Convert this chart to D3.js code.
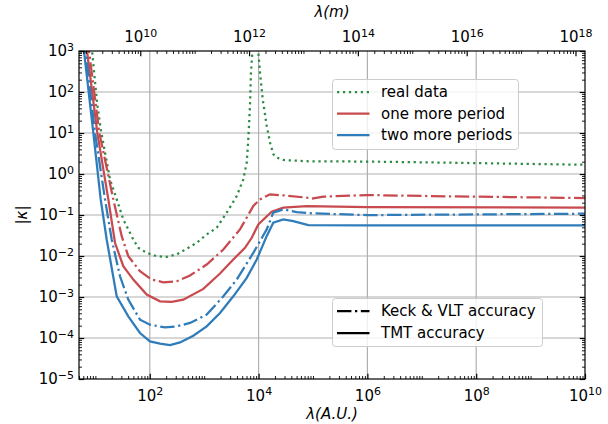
<!DOCTYPE html>
<html>
<head>
<meta charset="utf-8">
<script src="https://cdn.jsdelivr.net/npm/d3@7"></script>
<style>
body { margin: 0; background: #fff; }
svg { font-family: "DejaVu Sans", sans-serif; }
</style>
</head>
<body>
<div id="chart"></div>
<script>
// [log10 λ(A.U.), log10 |κ|]
const realData = [[0.90,3.4],[0.94,3.0],[0.99,2.3],[1.03,1.75],[1.098,1.093],[1.177,0.523],[1.269,-0.130],[1.392,-0.619],[1.513,-1.108],[1.697,-1.597],[1.789,-1.800],[1.943,-1.922],[2.127,-2.005],[2.311,-2.020],[2.495,-1.963],[2.679,-1.824],[2.863,-1.677],[3.046,-1.474],[3.230,-1.311],[3.414,-0.944],[3.598,-0.538],[3.719,-0.130],[3.782,0.279],[3.811,0.848],[3.842,1.663],[3.860,2.479],[3.885,2.968],[3.934,4.2],[3.995,2.968],[4.026,2.479],[4.076,1.826],[4.149,1.174],[4.210,0.768],[4.271,0.482],[4.333,0.401],[4.455,0.342],[4.885,0.311],[6.0,0.303],[7.335,0.279],[10,0.225]];

const oneMoreKeck = [[0.86,3.3],[0.883,3.0],[1.072,1.01],[1.330,-0.619],[1.484,-1.516],[1.605,-2.005],[1.820,-2.372],[2.035,-2.575],[2.249,-2.641],[2.495,-2.616],[2.739,-2.477],[3.046,-2.208],[3.352,-1.841],[3.658,-1.352],[3.903,-0.782],[4.026,-0.619],[4.21,-0.496],[4.455,-0.521],[4.885,-0.577],[4.977,-0.601],[5.19,-0.553],[6.0,-0.513],[7.151,-0.538],[10,-0.587]];

const oneMoreTmt = [[0.82,3.3],[0.846,3.0],[1.035,1.01],[1.238,-0.619],[1.361,-1.677],[1.513,-2.249],[1.697,-2.575],[1.943,-2.941],[2.188,-3.105],[2.403,-3.120],[2.616,-3.064],[2.984,-2.802],[3.291,-2.428],[3.535,-2.086],[3.750,-1.800],[3.874,-1.555],[3.995,-1.230],[4.241,-0.919],[4.455,-0.822],[4.885,-0.782],[6.0,-0.807],[10,-0.822]];

const twoMoreKeck = [[0.79,3.3],[0.82,3.0],[0.993,1.01],[1.177,-0.619],[1.300,-1.597],[1.453,-2.494],[1.605,-3.064],[1.820,-3.553],[2.004,-3.675],[2.280,-3.741],[2.495,-3.716],[2.739,-3.633],[3.046,-3.430],[3.352,-2.983],[3.598,-2.575],[3.903,-1.922],[4.149,-1.352],[4.27,-0.944],[4.455,-0.863],[4.70,-0.929],[5.006,-0.961],[6.0,-1.003],[10,-0.968]];

const twoMoreTmt = [[0.76,3.3],[0.791,3.0],[0.962,1.01],[1.098,-0.619],[1.208,-1.597],[1.392,-2.983],[1.605,-3.472],[1.820,-3.878],[2.004,-4.083],[2.188,-4.139],[2.372,-4.171],[2.556,-4.108],[2.800,-3.944],[3.046,-3.716],[3.291,-3.389],[3.535,-2.983],[3.782,-2.533],[3.966,-2.086],[4.149,-1.516],[4.27,-1.188],[4.455,-1.108],[4.638,-1.149],[4.914,-1.247],[6.0,-1.254],[10,-1.254]];

const xDomain = [5, 1e10];
const yDomain = [1e-5, 1e3];
const auInKm = 1.496e8;   // top axis factor
const xMajor = [1e2, 1e4, 1e6, 1e8, 1e10];
const topMajor = [1e10, 1e12, 1e14, 1e16, 1e18];
const yMajor = [1e-5, 1e-4, 1e-3, 1e-2, 1e-1, 1e0, 1e1, 1e2, 1e3];

const colors = { green: '#2e8b44', red: '#c84a4e', blue: '#2f7cba' };

const series = [
    { data: realData, color: colors.green, dash: '2.25,3.7', name: 'real data' },
    { data: oneMoreKeck, color: colors.red, dash: '14.4,3.6,2.25,3.6' },
    { data: oneMoreTmt, color: colors.red, dash: null, name: 'one more period' },
    { data: twoMoreKeck, color: colors.blue, dash: '14.4,3.6,2.25,3.6' },
    { data: twoMoreTmt, color: colors.blue, dash: null, name: 'two more periods' }
];

const W = 608, H = 424;
const L = 79, R = 585, T = 51, B = 379;

const svg = d3.select('#chart').append('svg')
    .attr('width', W).attr('height', H);

const x = d3.scaleLog().domain(xDomain).range([L, R]);
const xTop = d3.scaleLog().domain(xDomain.map(d => d * auInKm)).range([L, R]);
const y = d3.scaleLog().domain(yDomain).range([B, T]);

function minorTicks(lo, hi, majors) {
    const out = [];
    for (let e = Math.floor(Math.log10(lo)); e <= Math.ceil(Math.log10(hi)); e++) {
        for (let k = 1; k < 10; k++) {
            const v = k * Math.pow(10, e);
            if (v >= lo * 0.999 && v <= hi * 1.001 && !majors.some(m => Math.abs(m - v) / v < 1e-6)) out.push(v);
        }
    }
    return out;
}

function powLabel(sel) {
    sel.each(function (d) {
        const t = d3.select(this);
        const e = Math.round(Math.log10(d));
        t.text('');
        t.append('tspan').text('10');
        t.append('tspan').attr('dy', '-0.5em').attr('font-size', '11px')
            .text(e < 0 ? '\u2212' + (-e) : e);
    });
}

// grid
svg.append('g').selectAll('line').data(xMajor.slice(0, 4)).join('line')
    .attr('x1', d => x(d)).attr('x2', d => x(d)).attr('y1', T).attr('y2', B)
    .attr('stroke', '#b0b0b0').attr('stroke-width', 1.2);
svg.append('g').selectAll('line').data(yMajor.slice(1, 8)).join('line')
    .attr('x1', L).attr('x2', R).attr('y1', d => y(d)).attr('y2', d => y(d))
    .attr('stroke', '#b0b0b0').attr('stroke-width', 1.2);

// curves
svg.append('clipPath').attr('id', 'clip').append('rect')
    .attr('x', L).attr('y', T).attr('width', R - L).attr('height', B - T);

const line = d3.line()
    .x(d => x(Math.pow(10, d[0])))
    .y(d => y(Math.pow(10, d[1])));

const curves = svg.append('g').attr('clip-path', 'url(#clip)');
series.forEach(s => {
    curves.append('path').datum(s.data)
        .attr('d', line)
        .attr('fill', 'none')
        .attr('stroke', s.color)
        .attr('stroke-width', 2.25)
        .attr('stroke-dasharray', s.dash);
});

// axes
const xMinor = minorTicks(xDomain[0], xDomain[1], xMajor);
const topMinor = minorTicks(xDomain[0] * auInKm, xDomain[1] * auInKm, topMajor);
const yMinor = minorTicks(yDomain[0], yDomain[1], yMajor);

function addAxis(axisFn, scale, majors, minors, transform, labels, pad) {
    const gMin = svg.append('g').attr('transform', transform)
        .call(axisFn(scale).tickValues(minors).tickSize(-3).tickFormat(''));
    gMin.select('.domain').remove();
    gMin.selectAll('line').attr('stroke-width', 0.9);
    const g = svg.append('g').attr('transform', transform)
        .call(axisFn(scale).tickValues(majors).tickSize(-5.25).tickPadding(pad));
    g.select('.domain').remove();
    g.selectAll('line').attr('stroke-width', 1.2);
    g.selectAll('text').attr('font-size', '15px').attr('font-family', '"DejaVu Sans", sans-serif')
        .attr('fill', '#000');
    if (labels) g.selectAll('text').call(powLabel);
    else g.selectAll('text').remove();
    return g;
}

addAxis(d3.axisBottom, x, xMajor, xMinor, `translate(0,${B})`, true, 11);
addAxis(d3.axisTop, xTop, topMajor, topMinor, `translate(0,${T})`, true, 9);
addAxis(d3.axisLeft, y, yMajor, yMinor, `translate(${L},0)`, true, 5);
addAxis(d3.axisRight, y, yMajor, yMinor, `translate(${R},0)`, false, 5);

svg.append('rect').attr('x', L).attr('y', T).attr('width', R - L).attr('height', B - T)
    .attr('fill', 'none').attr('stroke', '#000').attr('stroke-width', 1.2);

// axis titles
svg.append('text').attr('x', (L + R) / 2).attr('y', 419).attr('text-anchor', 'middle')
    .attr('font-size', '15px').attr('font-style', 'italic').text('λ(A.U.)');
svg.append('text').attr('x', (L + R) / 2).attr('y', 17).attr('text-anchor', 'middle')
    .attr('font-size', '15px').attr('font-style', 'italic').text('λ(m)');
const kappa = svg.append('text').attr('transform', `translate(27,${(T + B) / 2}) rotate(-90)`)
    .attr('text-anchor', 'middle').attr('font-size', '15px');
kappa.append('tspan').text('|');
kappa.append('tspan').attr('font-style', 'italic').text('κ');
kappa.append('tspan').text('|');

// legends
function legend(x0, y0, w, h, rows) {
    const g = svg.append('g');
    g.append('rect').attr('x', x0).attr('y', y0).attr('width', w).attr('height', h)
        .attr('rx', 3).attr('fill', '#fff').attr('fill-opacity', 0.8)
        .attr('stroke', '#cccccc').attr('stroke-width', 1);
    rows.forEach(r => {
        const ry = r.y;
        g.append('line').attr('x1', x0 + 4.5).attr('x2', x0 + 37).attr('y1', ry).attr('y2', ry)
            .attr('stroke', r.color).attr('stroke-width', 2.25).attr('stroke-dasharray', r.dash);
        g.append('text').attr('x', x0 + 48.5).attr('y', ry + 5.3).attr('font-size', '15px').text(r.label);
    });
}

legend(332.5, 79.5, 186, 70, [
    { label: 'real data', color: colors.green, dash: '2.25,3.7', y: 92 },
    { label: 'one more period', color: colors.red, dash: null, y: 113.5 },
    { label: 'two more periods', color: colors.blue, dash: null, y: 135 }
]);

legend(332.5, 298.5, 210, 48, [
    { label: 'Keck & VLT accuracy', color: '#000', dash: '14.4,3.6,2.25,3.6', y: 311 },
    { label: 'TMT accuracy', color: '#000', dash: null, y: 333 }
]);
</script>
</body>
</html>
